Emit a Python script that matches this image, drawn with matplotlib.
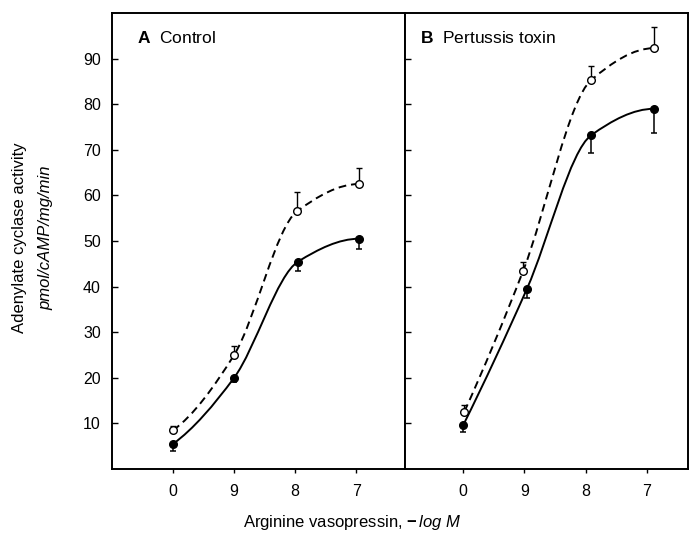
import numpy as np
import matplotlib
matplotlib.use("Agg")
import matplotlib.pyplot as plt
from matplotlib.path import Path
from matplotlib.patches import PathPatch

plt.rcParams['font.family'] = ['Liberation Sans', 'DejaVu Sans']
plt.rcParams['mathtext.fontset'] = 'custom'
plt.rcParams['mathtext.rm'] = 'Liberation Sans'
plt.rcParams['mathtext.it'] = 'Liberation Sans:italic'
plt.rcParams['mathtext.bf'] = 'Liberation Sans:bold'

tick_pos = [0, 1, 2, 3]
tick_labels = ['0', '9', '8', '7']

# panel A (control)
a_fill_x = [0, 1.0, 2.05, 3.05]
a_fill_y = [5.5, 20, 45.5, 50.5]
a_fill_err = [1.5, 1.0, 2.0, 2.3]
a_open_x = [0, 1.0, 2.03, 3.05]
a_open_y = [8.5, 25, 56.5, 62.5]
a_open_err = [1.0, 2.0, 4.2, 3.5]

# panel B (pertussis toxin)
b_fill_x = [0, 1.04, 2.09, 3.12]
b_fill_y = [9.6, 39.5, 73.2, 79.0]
b_fill_err = [1.5, 2.0, 4.0, 5.4]
b_open_x = [0.02, 0.98, 2.09, 3.12]
b_open_y = [12.6, 43.5, 85.3, 92.3]
b_open_err = [1.5, 2.0, 3.0, 4.6]


def smooth_path(x, y):
    # monotone cubic (pchip) drawn as bezier segments
    x = np.asarray(x, float)
    y = np.asarray(y, float)
    h = np.diff(x)
    d = np.diff(y) / h
    n = len(x)
    m = np.zeros(n)
    for k in range(1, n - 1):
        if d[k - 1] * d[k] > 0:
            w1 = 2 * h[k] + h[k - 1]
            w2 = h[k] + 2 * h[k - 1]
            m[k] = (w1 + w2) / (w1 / d[k - 1] + w2 / d[k])
    m[0] = ((2 * h[0] + h[1]) * d[0] - h[0] * d[1]) / (h[0] + h[1])
    if m[0] * d[0] <= 0:
        m[0] = 0
    m[-1] = ((2 * h[-1] + h[-2]) * d[-1] - h[-1] * d[-2]) / (h[-1] + h[-2])
    if m[-1] * d[-1] <= 0:
        m[-1] = 0
    verts = [(x[0], y[0])]
    codes = [Path.MOVETO]
    for k in range(n - 1):
        verts += [(x[k] + h[k] / 3, y[k] + m[k] * h[k] / 3),
                  (x[k + 1] - h[k] / 3, y[k + 1] - m[k + 1] * h[k] / 3),
                  (x[k + 1], y[k + 1])]
        codes += [Path.CURVE4] * 3
    return Path(verts, codes)


def draw_panel(ax, fx, fy, ferr, ox, oy, oerr):
    ax.add_patch(PathPatch(smooth_path(fx, fy), fill=False, lw=1.4, color='black', zorder=2))
    ax.add_patch(PathPatch(smooth_path(ox, oy), fill=False, lw=1.4, color='black',
                           linestyle=(0, (4, 2.5)), zorder=2))
    ax.errorbar(fx, fy, yerr=[ferr, [0] * len(ferr)], fmt='o', color='black',
                ms=5.5, elinewidth=1.1, capsize=2.2, capthick=1.1, zorder=3)
    ax.errorbar(ox, oy, yerr=[[0] * len(oerr), oerr], fmt='o', color='black', mfc='white',
                mec='black', mew=1.0, ms=5.5, elinewidth=1.0, capsize=2.2, capthick=1.0, zorder=3)
    ax.set_ylim(0, 100)
    ax.set_yticks(range(10, 100, 10))
    ax.set_xticks(tick_pos)
    ax.set_xticklabels(tick_labels)
    ax.tick_params(axis='y', direction='in', length=4, width=1.0, labelsize=11.5, pad=8)
    ax.tick_params(axis='x', direction='out', length=3, width=1.0, labelsize=11.5, pad=8)
    for s in ax.spines.values():
        s.set_linewidth(1.4)


fig = plt.figure(figsize=(6.92, 5.45), dpi=100)
bot = (545 - 469) / 545
top = (545 - 13) / 545
ax1 = fig.add_axes([112 / 692, bot, (405 - 112) / 692, top - bot])
ax2 = fig.add_axes([405 / 692, bot, (688 - 405) / 692, top - bot])

draw_panel(ax1, a_fill_x, a_fill_y, a_fill_err, a_open_x, a_open_y, a_open_err)
draw_panel(ax2, b_fill_x, b_fill_y, b_fill_err, b_open_x, b_open_y, b_open_err)
ax1.set_xlim(-1.0, 3.8)
ax2.set_xlim(-0.95, 3.67)
ax2.tick_params(axis='y', labelleft=False)

ax1.text(0.085, 0.945, r'$\mathbf{A}$  Control', transform=ax1.transAxes, fontsize=12.5, va='center')
ax2.text(0.053, 0.945, r'$\mathbf{B}$  Pertussis toxin', transform=ax2.transAxes, fontsize=12.5, va='center')

fig.text(20 / 692, 1 - 238 / 545, 'Adenylate cyclase activity', rotation=90,
         ha='center', va='center', fontsize=12)
fig.text(46 / 692, 1 - 238 / 545, 'pmol/cAMP/mg/min', rotation=90, style='italic',
         ha='center', va='center', fontsize=12)
fig.text(352 / 692, 1 - 523 / 545, r'Arginine vasopressin, $\mathbf{-}\,\mathit{log}$ $\mathit{M}$',
         ha='center', va='center', fontsize=12)

fig.savefig('out.png', dpi=100)
